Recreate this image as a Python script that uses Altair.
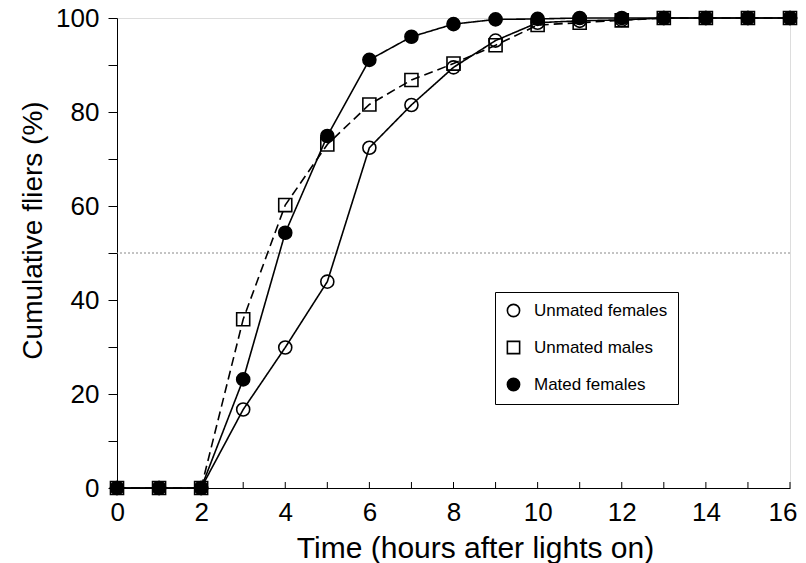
import altair as alt
import pandas as pd

hours = list(range(0, 17))
series_names = ["Unmated females", "Unmated males", "Mated females"]
line_styles = ["solid", "dashed", "solid"]
unmated_females = [0, 0, 0, 16.7, 29.9, 43.9, 72.4, 81.5, 89.5, 95.2, 99.0, 99.4, 99.6, 100, 100, 100, 100]
unmated_males = [0, 0, 0, 35.9, 60.2, 73.1, 81.6, 86.8, 90.3, 94.2, 98.5, 99.0, 99.5, 100, 100, 100, 100]
mated_females = [0, 0, 0, 23.1, 54.3, 74.9, 91.1, 96.0, 98.7, 99.7, 99.8, 100, 100, 100, 100, 100, 100]
x_ticks = list(range(0, 17))
x_labels = list(range(0, 17, 2))
y_ticks = list(range(0, 101, 10))
ref_line = [50]

rows = []
for name, style, vals in zip(series_names, line_styles,
                             [unmated_females, unmated_males, mated_females]):
    for h, v in zip(hours, vals):
        rows.append({"hour": h, "pct": v, "series": name, "style": style})
df = pd.DataFrame(rows)

FONT = "Liberation Sans"

xs = alt.X("hour:Q", scale=alt.Scale(domain=[0, 16], nice=False),
           axis=alt.Axis(values=x_labels, ticks=False, grid=False, domainColor="black",
                         labelFontSize=26, labelPadding=11, labelColor="black",
                         labelFlush=True, labelFlushOffset=7,
                         title="Time (hours after lights on)", titleFontSize=30,
                         titleFontWeight="normal", titleColor="black",
                         titleX=358, titleY=60, titleAlign="center", titleBaseline="middle"))
ys = alt.Y("pct:Q", scale=alt.Scale(domain=[0, 100], nice=False),
           axis=alt.Axis(values=y_ticks, labelExpr="datum.value % 20 == 0 ? datum.label : ''",
                         grid=False, tickSize=9, tickColor="black", domainColor="black",
                         labelFontSize=26, labelPadding=9, labelColor="black",
                         labelFlush=False,
                         title="Cumulative fliers (%)", titleFontSize=28,
                         titleFontWeight="normal", titleColor="black",
                         titleX=-84, titleY=212, titleAngle=270, titleAlign="center",
                         titleBaseline="middle"))

base = alt.Chart(df)

ref = alt.Chart(pd.DataFrame({"y": ref_line})).mark_rule(
    color="#888888", strokeDash=[2, 2], strokeWidth=1
).encode(y="y:Q")

xtick = alt.Chart(pd.DataFrame({"hour": x_ticks})).mark_rule(color="black", strokeWidth=1).encode(
    x="hour:Q", y=alt.value(470), y2=alt.value(464))

lines = base.mark_line(color="black", strokeWidth=1.6).encode(
    x=xs, y=ys,
    detail="series:N",
    strokeDash=alt.StrokeDash("style:N", scale=alt.Scale(domain=["solid", "dashed"],
                              range=[[1, 0], [9, 5]]), legend=None),
)

points = base.mark_point(strokeWidth=1.6, opacity=1, size=170).encode(
    x="hour:Q", y="pct:Q",
    shape=alt.Shape("series:N", scale=alt.Scale(domain=series_names,
                    range=["circle", "square", "circle"]), title=None),
    fill=alt.Fill("series:N", scale=alt.Scale(domain=series_names,
                  range=["transparent", "transparent", "black"]), title=None),
    stroke=alt.Stroke("series:N", scale=alt.Scale(domain=series_names,
                      range=["black", "black", "black"]), title=None),
)

chart = alt.layer(ref, xtick, lines, points).properties(
    width=673, height=470,
    autosize=alt.AutoSizeParams(type="none"),
    padding={"left": 109, "top": 10, "right": 8, "bottom": 75},
).configure_view(stroke="black", strokeWidth=1).configure(
    font=FONT
).configure_axis(labelFont=FONT, titleFont=FONT).configure_legend(
    orient="none", legendX=378, legendY=274,
    strokeColor="black", fillColor="white", padding=10,
    rowPadding=18, labelFontSize=17, labelFont=FONT,
    labelColor="black", symbolSize=150,
    symbolStrokeWidth=1.6,
    labelOffset=12, labelLimit=300,
)

chart.save("out.html", embed_options={"renderer": "svg", "actions": False})
